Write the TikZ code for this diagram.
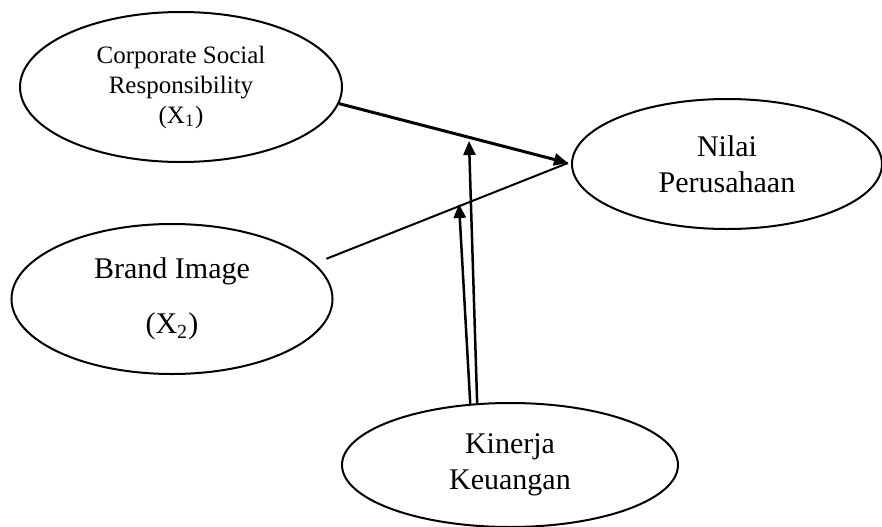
\documentclass[tikz,border=0pt]{standalone}
\usepackage{fontspec}
\setmainfont{Liberation Serif}
\usetikzlibrary{shapes.geometric,arrows.meta}
\begin{document}
\begin{tikzpicture}[x=0.4pt,y=-0.4pt,
    var/.style={draw,ellipse,line width=0.8pt,inner sep=0pt,align=center,
      font=\fontsize{12}{14.4}\selectfont},
    effect/.style={line width=1pt,-{Triangle[length=5.6pt,width=4.8pt]}}]
  \useasboundingbox (0,0) rectangle (882,527);
  \draw
    (181,87) node[var,minimum width=128.8pt,minimum height=60pt,
      font=\fontsize{10}{12}\selectfont] (csr){Corporate Social\\Responsibility\\(X\textsubscript{1})}
    (172,299) node[var,minimum width=128.4pt,minimum height=60pt,
      font=\fontsize{12}{22}\selectfont] (brand){Brand Image\\(X\textsubscript{2})}
    (727,164) node[var,minimum width=124pt,minimum height=52pt] (nilai){Nilai\\Perusahaan}
    (510,465) node[var,minimum width=134.4pt,minimum height=49.6pt] (kinerja){Kinerja\\Keuangan};
  \coordinate (meet) at (568,163);
  \coordinate (modcsr) at (469,141);
  \coordinate (modbrand) at (459,204);
  \begin{scope}
    \draw[effect,line width=1.2pt] (csr.-6) to (meet);
    \draw[line width=0.8pt,shorten <=5pt] (brand.14) to (meet);
    \draw[effect] (kinerja.118) to (modcsr);
    \draw[effect] (kinerja.123) to (modbrand);
  \end{scope}
\end{tikzpicture}
\end{document}
